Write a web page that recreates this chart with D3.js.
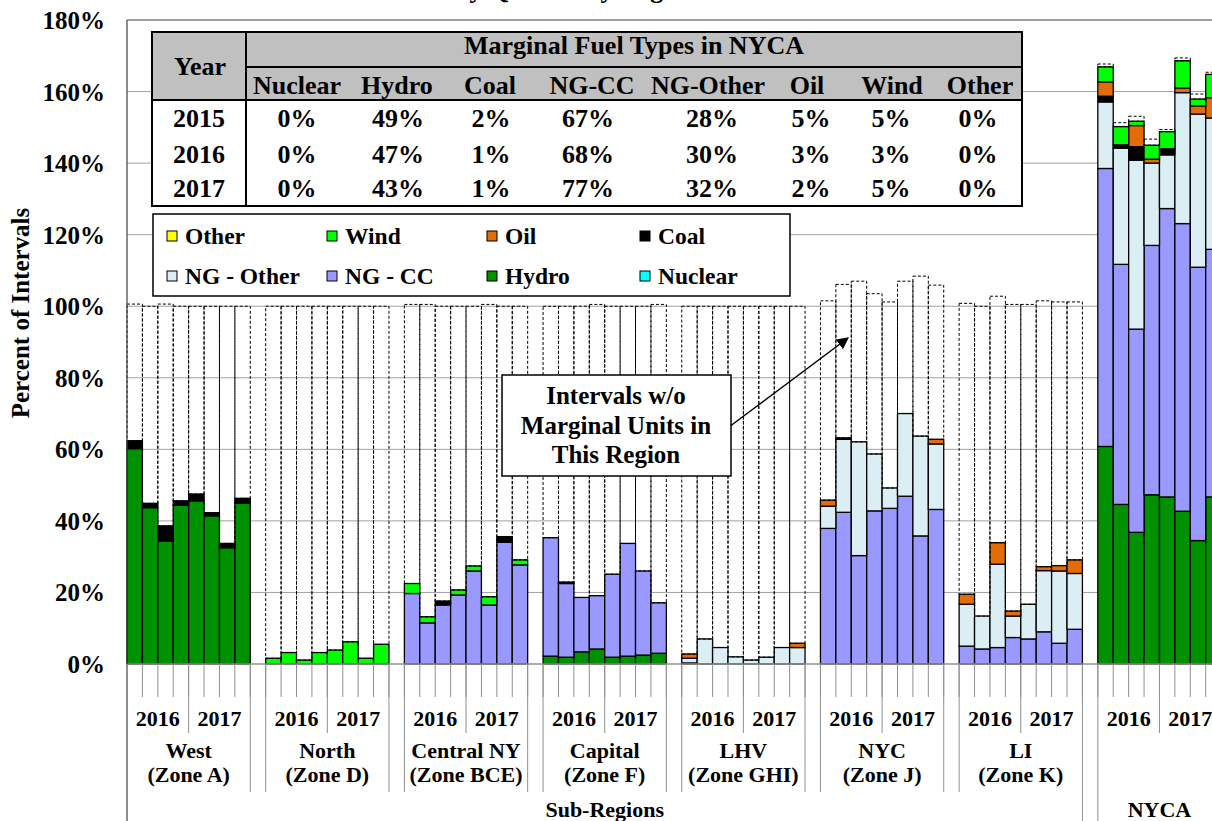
<!DOCTYPE html>
<html>
<head>
<meta charset="utf-8">
<script src="https://cdn.jsdelivr.net/npm/d3@7"></script>
<style>
  body { margin: 0; background: #fff; }
  svg { display: block; font-family: "Liberation Serif", "Times New Roman", serif; font-weight: bold; }
</style>
</head>
<body>
<svg id="chart" width="1212" height="821"></svg>
<script>
// ---- data (8 quarters per region: 2016 Q1-Q4, 2017 Q1-Q4) ----
const regionNames = ["West", "North", "Central NY", "Capital", "LHV", "NYC", "LI", ""];
const regionZones = ["(Zone A)", "(Zone D)", "(Zone BCE)", "(Zone F)", "(Zone GHI)", "(Zone J)", "(Zone K)", ""];
const years = ["2016", "2017"];
const groupLabels = ["Sub-Regions", "NYCA"];
const yTicks = [0, 20, 40, 60, 80, 100, 120, 140, 160, 180];

//                West                                     North                              Central NY                               Capital                                  LHV                               NYC                                      LI                                     NYCA
const nuclear  = [0,0,0,0,0,0,0,0,                          0,0,0,0,0,0,0,0,                    0,0,0,0,0,0,0,0,                          0,0,0,0,0,0,0,0,                          0,0,0,0,0,0,0,0,                  0,0,0,0,0,0,0,0,                          0,0,0,0,0,0,0,0,                        0,0,0,0,0,0,0,0];
const hydro    = [60.2,43.7,34.4,44.4,45.6,41.4,32.5,44.9,  0,0,0,0,0,0,0,0,                    0,0,0,0,0,0,0,0,                          2.2,1.9,3.4,4.2,1.9,2.2,2.5,3.0,          0,0,0,0,0,0,0,0,                  0,0,0,0,0,0,0,0,                          0,0,0,0,0,0,0,0,                        60.8,44.6,36.8,47.3,46.7,42.7,34.5,46.7];
const ngcc     = [0,0,0,0,0,0,0,0,                          0,0,0,0,0,0,0,0,                    19.7,11.5,16.5,19.3,26.0,16.5,34.0,27.7,  33.1,20.6,15.2,14.9,23.2,31.5,23.5,14.1,  0.3,0,0,0,0,0,0,0,                37.9,42.4,30.3,42.8,43.5,46.9,35.8,43.2,  5.0,4.2,4.6,7.4,7.0,9.0,5.8,9.7,        77.7,67.1,56.8,69.7,80.6,80.4,76.4,69.2];
const ngOther  = [0,0,0,0,0,0,0,0,                          0,0,0,0,0,0,0,0,                    0,0,0,0,0,0,0,0,                          0,0,0,0,0,0,0,0,                          1.3,7.0,4.6,2.0,1.1,1.9,4.6,4.6,  6.2,20.4,31.8,15.9,5.7,23.1,27.9,18.3,    11.7,9.2,23.3,6.0,9.7,17.1,20.2,15.6,   18.6,32.5,47.2,23.0,15.0,36.6,42.8,36.7];
const coal     = [2.2,1.2,4.2,1.2,1.9,0.9,1.2,1.4,          0,0,0,0,0,0,0,0,                    0,0,1.1,0,0,0,1.6,0,                      0,0.4,0,0,0,0,0,0,                        0,0,0,0,0,0,0,0,                  0,0.4,0,0,0,0,0,0,                        0,0,0,0,0,0,0,0,                        1.6,0.9,3.8,0,1.7,0,0,0];
const oil      = [0,0,0,0,0,0,0,0,                          0,0,0,0,0,0,0,0,                    0,0,0,0,0,0,0,0,                          0,0,0,0,0,0,0,0,                          1.2,0,0,0,0,0,0,1.2,              1.7,0,0,0,0,0,0,1.3,                      2.8,0,6.0,1.4,0,1.1,1.5,3.8,            4.0,0,5.9,1.1,0,1.3,2.3,5.7];
const wind     = [0,0,0,0,0,0,0,0,                          1.6,3.2,1.1,3.2,3.9,6.2,1.6,5.5,    2.8,1.7,0,1.4,1.4,2.3,0,1.4,              0,0,0,0,0,0,0,0,                          0,0,0,0,0,0,0,0,                  0,0,0,0,0,0,0,0,                          0,0,0,0,0,0,0,0,                        4.2,5.1,1.2,3.9,4.8,7.6,1.9,6.5];
const other    = [0,0,0,0,0,0,0,0,                          0,0,0,0,0,0,0,0,                    0,0,0,0,0,0,0,0,                          0,0,0,0,0,0,0,0,                          0,0,0,0,0,0,0,0,                  0,0,0,0,0,0,0,0,                          0,0,0,0,0,0,0,0,                        0,0,0,0,0,0,0,0];
const noMarginal = [38.2,55.1,62.0,54.4,52.5,57.7,66.3,53.7, 98.4,96.8,98.9,96.8,96.1,93.8,98.4,94.5, 78.0,87.3,82.4,79.3,72.6,81.7,64.4,70.9, 64.7,77.1,81.4,81.4,74.9,66.3,74.0,83.4, 97.2,93.0,95.4,98.0,98.9,98.1,95.4,94.2, 55.7,42.9,44.9,44.8,52.0,37.0,44.7,43.1, 81.3,86.6,68.9,85.7,83.8,74.3,73.7,72.1, 0.8,1.1,1.4,1.7,0.6,0.8,1.4,0.6];

// inset table
const tableTitle = "Marginal Fuel Types in NYCA";
const tableFuels = ["Nuclear", "Hydro", "Coal", "NG-CC", "NG-Other", "Oil", "Wind", "Other"];
const tableYears = ["2015", "2016", "2017"];
const tableValues = [
  [0, 49, 2, 67, 28, 5, 5, 0],
  [0, 47, 1, 68, 30, 3, 3, 0],
  [0, 43, 1, 77, 32, 2, 5, 0]
];

// series (stack order bottom -> top)
const seriesKeys = ["nuclear", "hydro", "ngcc", "ngOther", "coal", "oil", "wind", "other", "noMarginal"];
const seriesData = { nuclear, hydro, ngcc, ngOther, coal, oil, wind, other, noMarginal };
const colors = {
  nuclear: "#00ffff", hydro: "#009100", ngcc: "#9999ff", ngOther: "#dbeef4",
  coal: "#000000", oil: "#e36c09", wind: "#00ff00", other: "#ffff00", noMarginal: "none"
};
const legendItems = [
  ["other", "Other"], ["wind", "Wind"], ["oil", "Oil"], ["coal", "Coal"],
  ["ngOther", "NG - Other"], ["ngcc", "NG - CC"], ["hydro", "Hydro"], ["nuclear", "Nuclear"]
];

// ---- layout ----
const svg = d3.select("#chart");
const plotLeft = 127, plotTop = 20, plotBottom = 664, slotW = 15.41;

const slots = [];
regionNames.forEach((r, ri) => {
  for (let b = 0; b < 8; b++) slots.push({ key: ri + "-" + b, region: ri, bar: b });
  if (ri < regionNames.length - 1) slots.push({ key: "gap" + ri, gap: true });
});
const plotRight = plotLeft + slots.length * slotW;

const x = d3.scaleBand().domain(slots.map(s => s.key)).range([plotLeft, plotRight]).padding(0);
const y = d3.scaleLinear().domain([0, 180]).range([plotBottom, plotTop]);
const bw = x.bandwidth();

// title (cut off at top of image)
svg.append("text").attr("x", 455).attr("y", -2).attr("font-size", 26).text("by Quarter by Region");

// gridlines
svg.append("g").selectAll("line").data(yTicks.filter(t => t > 0)).join("line")
  .attr("x1", plotLeft).attr("x2", plotRight)
  .attr("y1", d => y(d)).attr("y2", d => y(d))
  .attr("stroke", d => d === 180 ? "#404040" : "#a0a0a0").attr("stroke-width", 1);

// y tick labels
svg.append("g").selectAll("text").data(yTicks).join("text")
  .attr("x", 105).attr("y", d => y(d) + 9)
  .attr("text-anchor", "end").attr("font-size", 25)
  .text(d => d + "%");

svg.append("text")
  .attr("transform", "translate(29,313) rotate(-90)")
  .attr("text-anchor", "middle").attr("font-size", 25)
  .text("Percent of Intervals");

// stacked bars
const bars = slots.filter(s => !s.gap).map((s, i) => {
  const o = { key: s.key };
  seriesKeys.forEach(k => { o[k] = seriesData[k][i]; });
  return o;
});
const stacked = d3.stack().keys(seriesKeys)(bars);

const gBars = svg.append("g");
stacked.forEach(layer => {
  const k = layer.key;
  gBars.append("g").selectAll("rect")
    .data(layer.filter(d => d[1] - d[0] > 0))
    .join("rect")
    .attr("x", d => x(d.data.key))
    .attr("width", bw)
    .attr("y", d => y(d[1]))
    .attr("height", d => y(d[0]) - y(d[1]))
    .attr("fill", colors[k])
    .attr("stroke", "#000")
    .attr("stroke-width", k === "noMarginal" ? 1 : 1.3)
    .attr("stroke-dasharray", k === "noMarginal" ? "3,2" : null);
});

// axes frame
svg.append("line").attr("x1", plotLeft).attr("x2", plotRight).attr("y1", plotBottom).attr("y2", plotBottom)
  .attr("stroke", "#909090").attr("stroke-width", 1.5);
svg.append("line").attr("x1", plotLeft).attr("x2", plotLeft).attr("y1", plotTop).attr("y2", 821)
  .attr("stroke", "#404040").attr("stroke-width", 1.2);

// multi-level category axis
const gAx = svg.append("g").attr("stroke", "#909090").attr("stroke-width", 1);
const bounds = slots.map(s => x(s.key)).concat([plotRight]);
gAx.selectAll(".q").data(bounds).join("line")
  .attr("x1", d => d).attr("x2", d => d).attr("y1", plotBottom).attr("y2", 697);

regionNames.forEach((r, ri) => {
  const x0 = x(ri + "-0"), x4 = x(ri + "-4"), x8 = x(ri + "-7") + bw;
  gAx.append("line").attr("x1", x4).attr("x2", x4).attr("y1", plotBottom).attr("y2", 733);
  const startBottom = ri === 7 ? 821 : 792;
  const endBottom = ri === 6 ? 821 : 792;
  gAx.append("line").attr("x1", x0).attr("x2", x0).attr("y1", plotBottom).attr("y2", ri === 0 ? 821 : startBottom);
  gAx.append("line").attr("x1", x8).attr("x2", x8).attr("y1", plotBottom).attr("y2", endBottom);

  years.forEach((yr, yi) => {
    const cx = x(ri + "-" + (yi * 4)) + 2 * bw;
    svg.append("text").attr("x", cx).attr("y", 726).attr("text-anchor", "middle")
      .attr("font-size", 22).text(yr);
  });
  if (r) {
    const cx = (x0 + x8) / 2;
    svg.append("text").attr("x", cx).attr("y", 758).attr("text-anchor", "middle").attr("font-size", 22).text(r);
    svg.append("text").attr("x", cx).attr("y", 782).attr("text-anchor", "middle").attr("font-size", 22).text(regionZones[ri]);
  }
});
const subEnd = x("6-7") + bw;
svg.append("text").attr("x", (plotLeft + subEnd) / 2).attr("y", 817).attr("text-anchor", "middle")
  .attr("font-size", 22).text(groupLabels[0]);
svg.append("text").attr("x", (x("7-0") + x("7-7") + bw) / 2).attr("y", 817).attr("text-anchor", "middle")
  .attr("font-size", 22).text(groupLabels[1]);

// ---- inset table ----
const tb = { x: 152, y: 32, w: 870, h: 174, yearW: 94, r1: 35, r2: 33 };
const gT = svg.append("g");
gT.append("rect").attr("x", tb.x).attr("y", tb.y).attr("width", tb.w).attr("height", tb.h).attr("fill", "#fff");
gT.append("rect").attr("x", tb.x).attr("y", tb.y).attr("width", tb.w).attr("height", tb.r1 + tb.r2).attr("fill", "#c0c0c0");
gT.append("rect").attr("x", tb.x).attr("y", tb.y).attr("width", tb.w).attr("height", tb.h)
  .attr("fill", "none").attr("stroke", "#000").attr("stroke-width", 2);
gT.append("line").attr("x1", tb.x + tb.yearW).attr("x2", tb.x + tb.yearW).attr("y1", tb.y).attr("y2", tb.y + tb.h)
  .attr("stroke", "#000").attr("stroke-width", 2);
gT.append("line").attr("x1", tb.x + tb.yearW).attr("x2", tb.x + tb.w).attr("y1", tb.y + tb.r1).attr("y2", tb.y + tb.r1)
  .attr("stroke", "#000").attr("stroke-width", 2);
gT.append("line").attr("x1", tb.x).attr("x2", tb.x + tb.w).attr("y1", tb.y + tb.r1 + tb.r2).attr("y2", tb.y + tb.r1 + tb.r2)
  .attr("stroke", "#000").attr("stroke-width", 2);

const headX = [297, 397, 490, 592, 708, 807, 892, 980];
const valX = [297, 398, 491, 588, 712, 811, 891, 978];
const rowY = [127, 163, 197];
gT.append("text").attr("x", tb.x + tb.yearW / 2 + 1).attr("y", 75).attr("text-anchor", "middle").attr("font-size", 26).text("Year");
gT.append("text").attr("x", tb.x + tb.yearW + (tb.w - tb.yearW) / 2).attr("y", 54).attr("text-anchor", "middle").attr("font-size", 26).text(tableTitle);
tableFuels.forEach((f, i) => {
  gT.append("text").attr("x", headX[i]).attr("y", 94).attr("text-anchor", "middle").attr("font-size", 26).text(f);
});
tableYears.forEach((yr, r) => {
  gT.append("text").attr("x", 199).attr("y", rowY[r]).attr("text-anchor", "middle").attr("font-size", 26).text(yr);
  tableValues[r].forEach((v, i) => {
    gT.append("text").attr("x", valX[i]).attr("y", rowY[r]).attr("text-anchor", "middle").attr("font-size", 26).text(v + "%");
  });
});

// ---- legend ----
const gL = svg.append("g");
gL.append("rect").attr("x", 153).attr("y", 214).attr("width", 637).attr("height", 82)
  .attr("fill", "#fff").attr("stroke", "#000").attr("stroke-width", 1.5);
const legX = [167, 327, 487, 640], legY = [236, 276];
legendItems.forEach(([k, label], i) => {
  const lx = legX[i % 4], ly = legY[Math.floor(i / 4)];
  gL.append("rect").attr("x", lx).attr("y", ly - 5).attr("width", 10).attr("height", 10)
    .attr("fill", colors[k]).attr("stroke", "#000").attr("stroke-width", 1);
  gL.append("text").attr("x", lx + 18).attr("y", ly + 8).attr("font-size", 23.5).text(label);
});

// ---- annotation ----
svg.append("defs").append("marker").attr("id", "arr").attr("viewBox", "0 0 10 10")
  .attr("refX", 9).attr("refY", 5).attr("markerWidth", 8).attr("markerHeight", 8).attr("orient", "auto")
  .append("path").attr("d", "M0,0L10,5L0,10z").attr("fill", "#000");
svg.append("line").attr("x1", 729).attr("y1", 427).attr("x2", 848).attr("y2", 338)
  .attr("stroke", "#000").attr("stroke-width", 1.5).attr("marker-end", "url(#arr)");
svg.append("rect").attr("x", 502).attr("y", 375).attr("width", 229).attr("height", 101)
  .attr("fill", "#fff").attr("stroke", "#000").attr("stroke-width", 1.5);
["Intervals w/o", "Marginal Units in", "This Region"].forEach((t, i) => {
  svg.append("text").attr("x", 616).attr("y", 404 + i * 29.5).attr("text-anchor", "middle")
    .attr("font-size", 25).text(t);
});
</script>
</body>
</html>
